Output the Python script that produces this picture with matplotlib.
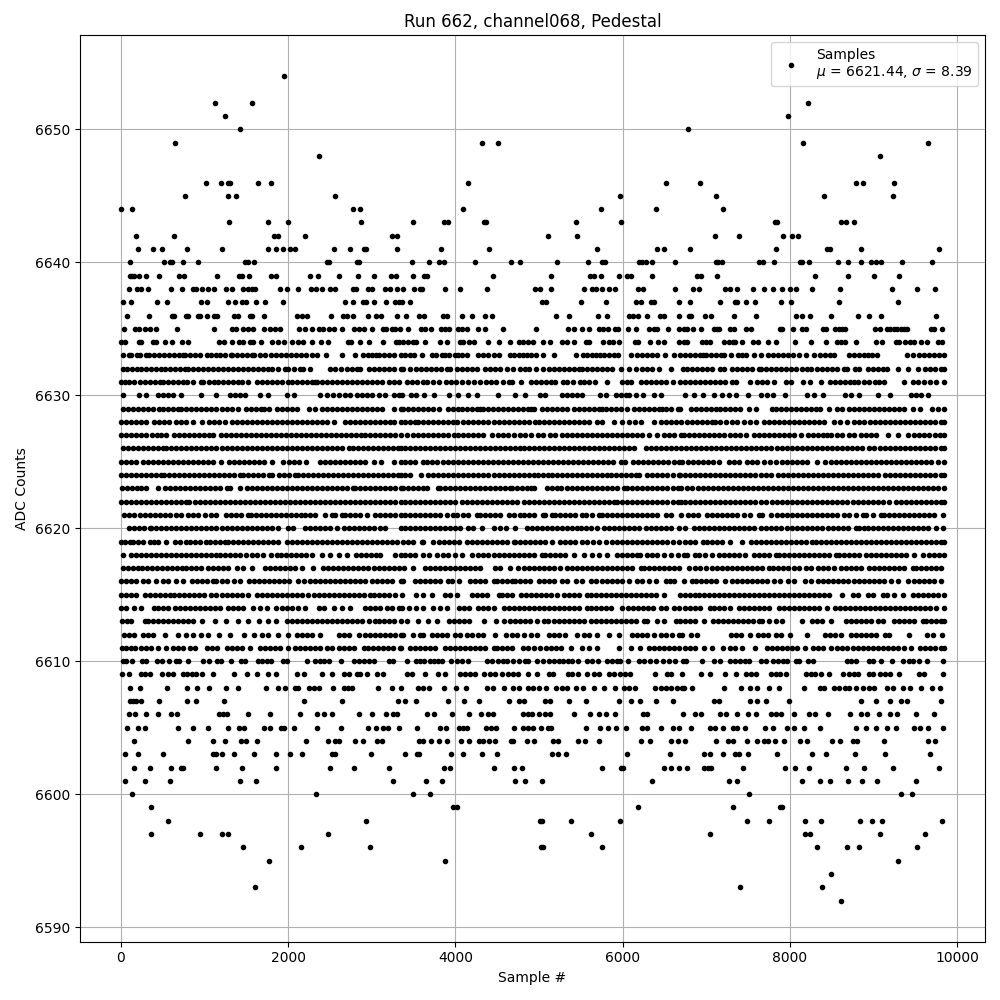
import matplotlib
matplotlib.use('Agg')
import matplotlib.pyplot as plt

# sample numbers, one list per ADC level
s6654 = [1952]
s6652 = [1124, 1568, 8212]
s6651 = [1244, 7972]
s6650 = [1424, 6784]
s6649 = [644, 4320, 4512, 8152, 9652]
s6648 = [2372, 9076]
s6646 = [1016, 1196, 1280, 1304, 1640, 1796, 4152, 6516, 6928, 8788, 8872, 9244]
s6645 = [764, 1280, 1376, 2564, 5964, 7120, 8404, 9232]
s6644 = [8, 128, 2780, 2864, 4092, 5736, 6396, 7204]
s6643 = [1292, 1760, 2000, 2876, 3492, 3864, 3912, 4344, 4368, 5448, 5976, 7816, 7840, 8608, 8668, 8764]
s6642 = [176, 632, 1832, 1880, 2204, 3240, 3300, 5112, 5460, 7108, 7396, 7912, 8020, 8092]
s6641 = [200, 380, 488, 788, 1208, 1760, 1856, 1940, 2024, 2084, 2552, 2744, 2912, 2936, 3300, 3828, 4404,
         5688, 6408, 6492, 6808, 7828, 8440, 8476, 8848, 9780]
s6640 = [104, 512, 584, 608, 740, 920, 1484, 1520, 1592, 2468, 2492, 2828, 2852, 3480, 3684, 3804, 3864, 4236,
         4668, 4776, 5220, 5580, 5748, 5784, 6192, 6228, 6276, 6348, 6624, 7120, 7144, 7192, 7636, 7672, 7804,
         8116, 8140, 8224, 8572, 8692, 8848, 8968, 9028, 9088, 9340, 9696]
s6639 = [104, 128, 152, 212, 296, 452, 692, 752, 1148, 1412, 1448, 1532, 1796, 1856, 2264, 2360, 2612, 2840, 3032,
         3228, 3288, 3492, 3624, 3660, 4452, 5148, 5604, 5652, 5736, 5952, 6048, 6096, 6348, 6892, 6940, 7132,
         8296, 8692, 9004, 9304]
s6638 = [92, 188, 236, 320, 596, 728, 860, 896, 968, 1040, 1112, 1256, 1328, 1460, 1520, 1568, 1604, 1904, 1988,
         2120, 2276, 2336, 2408, 2504, 2564, 2780, 2816, 2960, 3008, 3156, 3216, 3300, 3372, 3504, 3576, 3600,
         3876, 4056, 4380, 4956, 5016, 5148, 5532, 5628, 5676, 5748, 5832, 5904, 6180, 6240, 6624, 6844, 6916,
         7228, 7288, 7372, 7564, 7684, 7792, 7900, 7996, 8068, 8260, 8596, 9220, 9520, 9732]
s6637 = [32, 116, 428, 548, 956, 1028, 1280, 1364, 1448, 1496, 1616, 1724, 1940, 2684, 2780, 2900, 2936, 3032,
         3168, 3276, 3324, 3360, 3452, 5040, 5088, 5496, 5796, 6156, 6216, 6336, 6372, 6672, 6808, 7168, 7348,
         7372, 7480, 7588, 7888, 8008, 8584, 9288]
s6636 = [80, 332, 608, 632, 776, 800, 920, 944, 1028, 1112, 1148, 1352, 1400, 1544, 1568, 1712, 2108, 2168, 2228,
         2516, 2660, 2708, 2780, 2960, 3056, 3112, 3300, 3408, 3564, 3624, 3852, 3900, 4080, 4200, 4356, 4440,
         5208, 5364, 5700, 5808, 6072, 6120, 6180, 6288, 6444, 6492, 6672, 6796, 6820, 6988, 7060, 7336, 7600,
         8068, 8140, 8236, 8488, 8812, 8944, 9088, 9744]
s6635 = [44, 164, 212, 284, 344, 416, 668, 1112, 1328, 1376, 1460, 1520, 1580, 1712, 1784, 1844, 1904, 2132, 2204,
         2288, 2372, 2420, 2492, 2552, 2648, 2792, 2852, 2912, 3008, 3132, 3168, 3240, 3276, 3336, 3432, 3588,
         3636, 3708, 3828, 3876, 3924, 4032, 4080, 4140, 4272, 4356, 4572, 4968, 5352, 5424, 5508, 5592, 5712,
         5760, 5820, 5904, 5940, 6060, 6156, 6312, 6372, 6408, 6540, 6672, 6728, 6772, 6844, 6940, 7096, 7132,
         7156, 7288, 7336, 7480, 7540, 7876, 7900, 8032, 8140, 8188, 8392, 8428, 8536, 8584, 8620, 8656, 9020,
         9076, 9160, 9196, 9244, 9280, 9328, 9364, 9400, 9684, 9720, 9816]
s6634 = [0, 56, 212, 236, 380, 416, 524, 608, 728, 800, 1172, 1232, 1328, 1412, 1460, 1544, 1580, 1676, 1808, 1880,
         1952, 2048, 2120, 2180, 2288, 2396, 2480, 2720, 2756, 2864, 2972, 3132, 3288, 3324, 3372, 3432, 3492,
         3528, 3636, 3816, 3900, 4056, 4092, 4164, 4224, 4392, 4524, 4656, 4764, 4812, 4872, 4932, 5052, 5136,
         5280, 5340, 5424, 5556, 5592, 5760, 5832, 5880, 5952, 6144, 6180, 6324, 6420, 6492, 6672, 6728, 6772,
         6952, 7000, 7048, 7208, 7268, 7316, 7348, 7432, 7564, 7624, 7732, 7828, 8056, 8248, 8428, 8560, 8608,
         8656, 8788, 9028, 9100, 9268, 9304, 9376, 9436, 9484, 9568, 9640, 9768, 9816]

# dense band: run ends, dots inside the runs are estimates
s6633 = [24, 92, 124, 196, 224, 304, 332, 392, 452, 512, 572, 632, 692, 744, 772, 832, 892, 952, 1036, 1076, 1136,
         1184, 1250, 1316, 1332, 1392, 1452, 1512, 1564, 1596, 1660, 1724, 1796, 1856, 1916, 1976, 2036, 2096,
         2156, 2216, 2280, 2344, 2452, 2644, 2796, 2892, 2950, 3000, 3052, 3084, 3144, 3204, 3264, 3344, 3400,
         3456, 3504, 3604, 3716, 3768, 3836, 3876, 3928, 3990, 4030, 4076, 4136, 4276, 4336, 4396, 4456, 4516,
         4648, 4700, 4760, 4808, 4856, 4910, 4964, 5048, 5176, 5448, 5524, 5576, 5630, 5676, 5724, 5780, 5840,
         5900, 5944, 6104, 6168, 6228, 6288, 6348, 6416, 6508, 6616, 6688, 6750, 6810, 6870, 6930, 6960, 7000,
         7060, 7120, 7170, 7216, 7300, 7376, 7430, 7480, 7576, 7648, 7736, 7796, 7856, 7916, 7976, 8036, 8108,
         8188, 8288, 8360, 8420, 8480, 8528, 8708, 8768, 8828, 8888, 8928, 8980, 9040, 9400, 9470, 9548, 9608,
         9668, 9728, 9788, 9840]
s6632 = [24, 76, 136, 196, 236, 296, 356, 416, 484, 524, 584, 644, 704, 764, 804, 864, 924, 984, 1044, 1104,
         1164, 1224, 1284, 1344, 1404, 1464, 1524, 1584, 1644, 1704, 1764, 1812, 1884, 1964, 2004, 2070, 2144,
         2184, 2264, 2504, 2564, 2630, 2700, 2764, 2824, 2856, 2972, 3024, 3084, 3144, 3204, 3264, 3344, 3376,
         3456, 3528, 3588, 3648, 3708, 3768, 3828, 3896, 3936, 4016, 4076, 4136, 4196, 4256, 4356, 4416, 4476,
         4536, 4616, 4688, 4776, 4836, 4876, 4960, 5048, 5116, 5176, 5236, 5296, 5356, 5416, 5476, 5516, 5576,
         5636, 5696, 5756, 5816, 5876, 5976, 6076, 6164, 6236, 6296, 6356, 6436, 6576, 6720, 6768, 6828, 6888,
         6948, 7008, 7068, 7160, 7208, 7308, 7368, 7428, 7488, 7548, 7628, 7648, 7708, 7768, 7828, 7888, 7948,
         8008, 8068, 8148, 8200, 8248, 8328, 8388, 8448, 8508, 8568, 8648, 8688, 8776, 8828, 8928, 8988, 9048,
         9108, 9160, 9288, 9408, 9536, 9620, 9680, 9740, 9800, 9840]
s6631 = [4, 48, 92, 156, 224, 284, 344, 404, 464, 504, 564, 624, 684, 744, 796, 864, 956, 984, 1050, 1116, 1164,
         1224, 1284, 1344, 1396, 1444, 1524, 1624, 1684, 1744, 1804, 1864, 1924, 1996, 2044, 2104, 2164, 2224,
         2284, 2324, 2344, 2404, 2464, 2524, 2584, 2644, 2704, 2764, 2824, 2884, 2944, 3004, 3064, 3124, 3204,
         3264, 3324, 3416, 3476, 3536, 3608, 3656, 3730, 3808, 3888, 3948, 4008, 4076, 4148, 4224, 4290, 4364,
         4424, 4490, 4564, 4636, 4676, 4780, 4904, 4964, 5024, 5084, 5144, 5196, 5288, 5336, 5410, 5484, 5536,
         5600, 5664, 5812, 5996, 6050, 6104, 6216, 6276, 6336, 6396, 6456, 6516, 6596, 6688, 6748, 6808, 6868,
         6928, 6988, 7048, 7108, 7168, 7228, 7308, 7352, 7520, 7608, 7668, 7728, 7808, 7948, 8016, 8152, 8240,
         8372, 8480, 8540, 8600, 8660, 8720, 8768, 8808, 8880, 8948, 9016, 9070, 9128, 9368, 9468, 9528, 9600,
         9670, 9748, 9840]
s6630 = [24, 212, 304, 444, 504, 564, 624, 720, 960, 1144, 1304, 1364, 1424, 1484, 1668, 1756, 1984, 2072, 2376,
         2464, 2532, 2612, 2680, 2744, 2824, 2884, 2944, 3004, 3084, 3164, 3264, 3324, 3356, 3468, 3528, 3628,
         3748, 3928, 4036, 4156, 4256, 4504, 4716, 4828, 5016, 5076, 5276, 5336, 5396, 5456, 5516, 5728, 5800,
         5916, 5976, 6036, 6076, 6156, 6248, 6376, 6464, 6740, 6856, 6960, 7088, 7184, 7268, 7352, 7496, 7648,
         7720, 7800, 7940, 8208, 8288, 8396, 8656, 8728, 8828, 9056, 9200, 9448, 9508, 9568, 9648]
s6629 = [24, 84, 144, 204, 264, 324, 384, 452, 504, 564, 624, 684, 724, 784, 844, 904, 964, 1024, 1084, 1144, 1204,
         1264, 1324, 1404, 1496, 1556, 1616, 1676, 1716, 1772, 1864, 1924, 1984, 2044, 2104, 2252, 2324, 2404,
         2464, 2524, 2584, 2644, 2704, 2764, 2824, 2884, 2944, 3004, 3064, 3124, 3264, 3344, 3376, 3436, 3496,
         3556, 3616, 3676, 3736, 3808, 3916, 3976, 4036, 4076, 4136, 4196, 4256, 4296, 4328, 4388, 4448, 4508,
         4568, 4628, 4688, 4748, 4808, 4868, 4904, 4936, 5036, 5096, 5156, 5216, 5276, 5336, 5416, 5476, 5536,
         5596, 5656, 5716, 5756, 5796, 5856, 5916, 5976, 6048, 6136, 6196, 6256, 6316, 6376, 6436, 6476, 6516,
         6576, 6656, 6688, 6820, 6880, 6940, 7000, 7060, 7116, 7160, 7220, 7280, 7348, 7408, 7508, 7600, 7788,
         7828, 7896, 7956, 8016, 8076, 8136, 8196, 8256, 8316, 8360, 8468, 8568, 8628, 8708, 8768, 8828, 8888,
         8948, 9008, 9068, 9128, 9188, 9248, 9308, 9368, 9468, 9560, 9696, 9770, 9840]
s6628 = [4, 64, 124, 184, 244, 304, 396, 456, 516, 576, 664, 720, 784, 864, 972, 1052, 1112, 1172, 1244, 1324, 1384,
         1444, 1504, 1564, 1624, 1684, 1744, 1804, 1864, 1924, 1984, 2044, 2104, 2164, 2224, 2284, 2344, 2404,
         2464, 2544, 2676, 2736, 2796, 2856, 2916, 2976, 3036, 3096, 3156, 3224, 3264, 3344, 3396, 3456, 3516,
         3556, 3616, 3676, 3736, 3796, 3856, 3916, 3976, 4016, 4096, 4156, 4216, 4276, 4336, 4396, 4456, 4516,
         4576, 4636, 4696, 4756, 4816, 4876, 4956, 4996, 5056, 5116, 5176, 5236, 5296, 5356, 5416, 5476, 5536,
         5596, 5696, 5748, 5896, 5996, 6076, 6150, 6216, 6376, 6456, 6516, 6576, 6636, 6696, 6768, 6828, 6888,
         6948, 7008, 7068, 7108, 7168, 7240, 7308, 7368, 7448, 7520, 7600, 7688, 7748, 7808, 7868, 7928, 7988,
         8048, 8108, 8168, 8228, 8288, 8348, 8408, 8528, 8600, 8688, 8768, 8830, 8888, 8960, 9020, 9080, 9140,
         9200, 9260, 9320, 9380, 9440, 9500, 9560, 9620, 9680, 9740, 9800, 9840]
s6627 = [0, 60, 120, 180, 236, 304, 372, 430, 484, 544, 636, 696, 756, 816, 876, 936, 996, 1056, 1104, 1196, 1256,
         1316, 1376, 1436, 1496, 1556, 1616, 1676, 1736, 1796, 1856, 1916, 1976, 2036, 2096, 2156, 2216, 2276,
         2336, 2396, 2456, 2516, 2576, 2636, 2696, 2756, 2816, 2876, 2916, 2984, 3044, 3104, 3164, 3224, 3284,
         3344, 3416, 3496, 3556, 3616, 3676, 3736, 3796, 3856, 3916, 3984, 4036, 4096, 4156, 4216, 4276, 4336,
         4436, 4504, 4564, 4624, 4700, 4768, 4836, 4900, 4984, 5048, 5128, 5196, 5276, 5336, 5396, 5456, 5516,
         5576, 5636, 5696, 5756, 5816, 5876, 5936, 5996, 6056, 6116, 6176, 6236, 6316, 6416, 6496, 6556, 6616,
         6696, 6728, 6788, 6848, 6908, 6976, 7028, 7088, 7150, 7216, 7288, 7348, 7408, 7476, 7576, 7628, 7688,
         7748, 7808, 7868, 7928, 7988, 8048, 8136, 8216, 8276, 8336, 8396, 8448, 8496, 8568, 8628, 8708, 8768,
         8848, 8910, 8968, 9028, 9168, 9288, 9408, 9480, 9540, 9608, 9668, 9730, 9790, 9840]
s6626 = [24, 84, 144, 204, 264, 324, 384, 444, 504, 544, 604, 664, 724, 784, 844, 904, 964, 1024, 1084, 1144, 1204,
         1264, 1324, 1384, 1444, 1504, 1564, 1624, 1684, 1744, 1804, 1864, 1924, 1984, 2044, 2104, 2164, 2224,
         2284, 2344, 2404, 2464, 2524, 2584, 2644, 2724, 2772, 2832, 2892, 2952, 3012, 3072, 3132, 3192, 3252,
         3312, 3344, 3396, 3456, 3516, 3576, 3636, 3696, 3756, 3816, 3876, 3936, 3996, 4056, 4116, 4176, 4236,
         4296, 4356, 4416, 4476, 4536, 4596, 4656, 4716, 4776, 4824, 4876, 4936, 4996, 5056, 5116, 5176, 5236,
         5296, 5356, 5416, 5476, 5536, 5596, 5656, 5716, 5776, 5836, 5896, 5956, 6016, 6076, 6136, 6276, 6336,
         6396, 6456, 6516, 6576, 6636, 6696, 6756, 6816, 6876, 6936, 6996, 7056, 7116, 7176, 7236, 7296, 7356,
         7416, 7476, 7536, 7596, 7656, 7716, 7768, 7840, 7900, 7960, 8020, 8080, 8140, 8200, 8260, 8320, 8380,
         8440, 8500, 8560, 8620, 8680, 8740, 8800, 8860, 8948, 9000, 9080, 9140, 9200, 9260, 9320, 9380, 9440,
         9500, 9560, 9620, 9680, 9740, 9800, 9840]
s6625 = [4, 64, 124, 184, 264, 324, 384, 444, 504, 564, 624, 684, 744, 804, 864, 924, 984, 1044, 1104, 1196, 1292,
         1352, 1412, 1472, 1532, 1592, 1652, 1712, 1804, 1944, 2012, 2072, 2132, 2212, 2384, 2444, 2504, 2564,
         2624, 2684, 2744, 2804, 2864, 2924, 3024, 3116, 3264, 3344, 3396, 3456, 3516, 3608, 3656, 3716, 3776,
         3856, 3916, 3976, 4036, 4096, 4156, 4216, 4276, 4336, 4396, 4444, 4504, 4564, 4624, 4684, 4744, 4804,
         4864, 4924, 4984, 5044, 5104, 5164, 5224, 5284, 5344, 5404, 5464, 5524, 5584, 5644, 5704, 5764, 5824,
         5884, 5976, 6028, 6128, 6188, 6248, 6308, 6368, 6428, 6488, 6548, 6608, 6676, 6708, 6776, 6836, 6896,
         6956, 7016, 7076, 7148, 7268, 7328, 7388, 7488, 7548, 7610, 7688, 7760, 7828, 7908, 7968, 8028, 8088,
         8148, 8200, 8328, 8416, 8488, 8548, 8608, 8668, 8728, 8788, 8848, 8908, 8968, 9028, 9088, 9148, 9208,
         9268, 9328, 9388, 9448, 9508, 9568, 9628, 9688, 9768, 9840]
s6624 = [4, 64, 124, 184, 244, 304, 364, 424, 484, 516, 576, 636, 696, 756, 816, 876, 936, 996, 1056, 1116, 1176,
         1236, 1296, 1356, 1424, 1464, 1524, 1584, 1644, 1704, 1772, 1804, 1892, 1952, 2012, 2084, 2116, 2176,
         2236, 2296, 2356, 2416, 2476, 2536, 2596, 2656, 2716, 2776, 2836, 2896, 2956, 3016, 3076, 3136, 3196,
         3256, 3316, 3344, 3396, 3456, 3584, 3676, 3736, 3796, 3856, 3916, 3976, 4036, 4096, 4156, 4216, 4276,
         4336, 4396, 4456, 4516, 4576, 4636, 4696, 4756, 4816, 4876, 4944, 4984, 5044, 5104, 5156, 5216, 5276,
         5336, 5396, 5456, 5516, 5576, 5636, 5696, 5756, 5816, 5864, 5924, 5984, 6044, 6104, 6164, 6196, 6296,
         6356, 6416, 6476, 6536, 6596, 6676, 6688, 6748, 6808, 6868, 6928, 6988, 7048, 7108, 7168, 7228, 7288,
         7348, 7408, 7468, 7528, 7588, 7648, 7708, 7768, 7856, 7916, 7976, 8036, 8096, 8156, 8216, 8276, 8336,
         8396, 8456, 8516, 8576, 8636, 8696, 8756, 8816, 8876, 8936, 8996, 9056, 9136, 9200, 9260, 9320, 9380,
         9440, 9500, 9560, 9620, 9680, 9740, 9800, 9840]
s6623 = [12, 72, 132, 192, 244, 304, 444, 524, 584, 644, 704, 764, 824, 884, 944, 1004, 1064, 1124, 1184, 1264, 1304,
         1424, 1504, 1564, 1624, 1684, 1744, 1804, 1864, 1924, 1984, 2044, 2104, 2164, 2224, 2284, 2344, 2404,
         2464, 2524, 2584, 2644, 2704, 2772, 2804, 2864, 2924, 2984, 3044, 3104, 3164, 3224, 3284, 3344, 3376,
         3436, 3496, 3556, 3616, 3664, 3796, 3816, 3876, 3936, 3996, 4056, 4116, 4176, 4236, 4296, 4356, 4416,
         4476, 4536, 4596, 4656, 4676, 4736, 4796, 4856, 4904, 4936, 5096, 5156, 5216, 5264, 5336, 5396, 5456,
         5516, 5576, 5636, 5696, 5756, 5816, 5876, 5936, 6016, 6056, 6116, 6176, 6236, 6296, 6356, 6416, 6476,
         6536, 6596, 6656, 6696, 6768, 6828, 6896, 6956, 7016, 7076, 7136, 7196, 7256, 7316, 7376, 7436, 7496,
         7556, 7616, 7676, 7736, 7796, 7856, 7916, 7976, 8036, 8096, 8156, 8216, 8276, 8336, 8396, 8456, 8516,
         8576, 8636, 8696, 8756, 8816, 8876, 8928, 8988, 9048, 9108, 9168, 9228, 9288, 9348, 9408, 9468, 9528,
         9588, 9648, 9708, 9768, 9840]
s6622 = [0, 60, 120, 180, 240, 300, 360, 420, 480, 540, 600, 660, 720, 780, 812, 884, 944, 1004, 1064, 1124, 1184,
         1244, 1304, 1364, 1424, 1484, 1544, 1604, 1664, 1724, 1784, 1844, 1904, 1964, 2024, 2084, 2144, 2204,
         2264, 2324, 2384, 2444, 2504, 2564, 2624, 2684, 2744, 2804, 2864, 2924, 2984, 3044, 3104, 3164, 3224,
         3284, 3344, 3396, 3456, 3516, 3576, 3636, 3696, 3756, 3816, 3876, 3936, 3996, 4076, 4136, 4196, 4256,
         4316, 4376, 4436, 4496, 4556, 4616, 4676, 4736, 4816, 4876, 4936, 4996, 5056, 5116, 5176, 5236, 5296,
         5356, 5416, 5476, 5536, 5596, 5656, 5716, 5776, 5836, 5896, 5936, 5996, 6056, 6116, 6176, 6236, 6296,
         6356, 6416, 6476, 6536, 6596, 6656, 6696, 6748, 6808, 6868, 6928, 6988, 7048, 7108, 7168, 7228, 7288,
         7348, 7408, 7468, 7528, 7588, 7648, 7708, 7788, 7848, 7908, 7968, 8028, 8088, 8148, 8208, 8268, 8328,
         8388, 8448, 8508, 8568, 8628, 8688, 8748, 8808, 8868, 8928, 8988, 9048, 9108, 9188, 9268, 9328, 9388,
         9448, 9508, 9568, 9628, 9688, 9748, 9808, 9840]
s6621 = [36, 96, 156, 224, 292, 352, 412, 472, 532, 592, 664, 724, 804, 864, 924, 1004, 1084, 1144, 1252, 1312, 1372,
         1432, 1524, 1556, 1616, 1676, 1736, 1796, 1856, 1916, 1976, 2036, 2096, 2156, 2204, 2264, 2324, 2444,
         2524, 2564, 2644, 2684, 2744, 2804, 2864, 2944, 3044, 3104, 3164, 3224, 3284, 3344, 3396, 3456, 3516,
         3576, 3636, 3696, 3756, 3816, 3896, 3968, 4024, 4096, 4156, 4256, 4296, 4356, 4416, 4476, 4536, 4636,
         4696, 4776, 4816, 4876, 4936, 5048, 5076, 5156, 5196, 5256, 5316, 5376, 5436, 5516, 5556, 5636, 5716,
         5756, 5816, 5876, 5936, 5996, 6056, 6116, 6176, 6236, 6296, 6356, 6416, 6516, 6576, 6696, 6776, 6836,
         6896, 7008, 7068, 7128, 7188, 7248, 7308, 7368, 7448, 7528, 7628, 7668, 7776, 7848, 7908, 7968, 8028,
         8088, 8148, 8208, 8268, 8328, 8388, 8448, 8508, 8568, 8648, 8708, 8788, 8868, 8908, 8988, 9088, 9128,
         9188, 9248, 9308, 9368, 9428, 9488, 9548, 9608, 9668, 9728, 9828]
s6620 = [92, 152, 212, 272, 344, 364, 424, 484, 544, 604, 664, 724, 784, 844, 904, 964, 1024, 1084, 1144, 1204, 1264,
         1324, 1384, 1444, 1504, 1564, 1624, 1684, 1744, 1804, 1884, 2004, 2064, 2204, 2264, 2324, 2384, 2444,
         2504, 2584, 2664, 2724, 2784, 2844, 2904, 2964, 3024, 3104, 3164, 3344, 3396, 3456, 3516, 3576, 3636,
         3696, 3756, 3816, 3876, 3936, 3996, 4056, 4156, 4208, 4316, 4456, 4536, 4608, 4716, 4856, 4916, 4976,
         5036, 5096, 5156, 5216, 5276, 5336, 5396, 5456, 5496, 5556, 5616, 5696, 5776, 5836, 5896, 5956, 6016,
         6076, 6136, 6196, 6276, 6336, 6396, 6456, 6516, 6576, 6676, 6748, 6848, 6908, 6968, 7028, 7088, 7148,
         7208, 7268, 7328, 7388, 7448, 7508, 7568, 7648, 7708, 7768, 7828, 7888, 7968, 8028, 8088, 8148, 8208,
         8268, 8328, 8388, 8456, 8516, 8576, 8636, 8696, 8788, 8828, 8888, 8928, 8988, 9048, 9108, 9168, 9228,
         9288, 9348, 9408, 9468, 9528, 9588, 9648, 9748, 9828]
s6619 = [0, 50, 104, 144, 204, 264, 344, 396, 444, 544, 644, 704, 784, 824, 884, 944, 1024, 1064, 1124, 1184, 1244,
         1284, 1344, 1404, 1464, 1524, 1584, 1644, 1704, 1764, 1824, 1884, 1984, 2044, 2104, 2164, 2224, 2284,
         2344, 2404, 2464, 2524, 2584, 2644, 2704, 2764, 2824, 2884, 2944, 3004, 3064, 3124, 3184, 3244, 3304,
         3376, 3436, 3496, 3596, 3616, 3736, 3808, 3868, 3928, 3988, 4048, 4136, 4196, 4256, 4316, 4376, 4436,
         4496, 4556, 4616, 4696, 4716, 4776, 4836, 4896, 4956, 5016, 5076, 5156, 5248, 5308, 5368, 5428, 5516,
         5576, 5648, 5716, 5796, 5876, 5936, 5996, 6056, 6116, 6176, 6236, 6296, 6356, 6416, 6476, 6536, 6596,
         6676, 6748, 6808, 6868, 6960, 7008, 7068, 7128, 7188, 7288, 7428, 7536, 7596, 7656, 7716, 7776, 7836,
         7896, 7956, 8016, 8076, 8136, 8196, 8268, 8308, 8368, 8428, 8488, 8548, 8608, 8668, 8728, 8788, 8848,
         8908, 8968, 9028, 9088, 9148, 9208, 9268, 9328, 9388, 9448, 9508, 9568, 9628, 9688, 9748, 9808, 9840]
s6618 = [24, 116, 176, 236, 296, 356, 416, 476, 536, 596, 656, 716, 776, 844, 904, 964, 1024, 1084, 1144, 1184, 1244,
         1304, 1364, 1424, 1496, 1564, 1630, 1704, 1796, 1864, 1916, 1976, 2036, 2096, 2156, 2216, 2284, 2404,
         2504, 2604, 2704, 2812, 2872, 2932, 2992, 3052, 3104, 3284, 3344, 3396, 3456, 3516, 3608, 3690, 3776,
         3848, 3916, 3996, 4076, 4196, 4276, 4336, 4396, 4456, 4516, 4576, 4636, 4696, 4756, 4816, 4876, 4936,
         5036, 5076, 5136, 5196, 5256, 5316, 5416, 5536, 5636, 5716, 5816, 5936, 5996, 6056, 6116, 6176, 6208,
         6296, 6356, 6416, 6496, 6576, 6656, 6728, 6768, 6868, 6908, 6988, 7068, 7148, 7208, 7268, 7328, 7388,
         7468, 7568, 7628, 7688, 7748, 7828, 7868, 7928, 7988, 8048, 8108, 8168, 8228, 8288, 8348, 8408, 8468,
         8548, 8588, 8648, 8708, 8768, 8828, 8908, 8968, 9028, 9088, 9148, 9208, 9268, 9328, 9388, 9488, 9588,
         9668, 9728, 9788, 9840]
s6617 = [24, 84, 144, 204, 252, 312, 372, 432, 492, 552, 612, 672, 732, 784, 844, 904, 964, 1044, 1104, 1164, 1224,
         1284, 1384, 1464, 1572, 1724, 1784, 1844, 1904, 1964, 2024, 2084, 2164, 2292, 2412, 2472, 2532, 2592,
         2652, 2712, 2772, 2832, 2892, 2952, 3024, 3084, 3144, 3204, 3264, 3324, 3384, 3488, 3636, 3696, 3756,
         3816, 3876, 3936, 3996, 4056, 4116, 4176, 4236, 4296, 4476, 4536, 4656, 4744, 4816, 4876, 4936, 4996,
         5056, 5116, 5176, 5256, 5336, 5396, 5456, 5516, 5576, 5636, 5696, 5756, 5816, 5876, 5936, 5996, 6056,
         6116, 6216, 6256, 6316, 6376, 6436, 6496, 6556, 6616, 6676, 6788, 6868, 6928, 7000, 7068, 7128, 7188,
         7248, 7308, 7368, 7428, 7488, 7548, 7608, 7668, 7748, 7800, 7860, 7920, 7980, 8048, 8108, 8188, 8248,
         8336, 8396, 8456, 8528, 8608, 8668, 8728, 8788, 8848, 8948, 9000, 9060, 9120, 9180, 9240, 9300, 9360,
         9468, 9508, 9568, 9628, 9688, 9748, 9808]
s6616 = [4, 64, 124, 184, 264, 324, 424, 504, 564, 664, 744, 852, 916, 976, 1036, 1104, 1144, 1204, 1264, 1356, 1424,
         1532, 1596, 1656, 1716, 1776, 1836, 1896, 1956, 2016, 2124, 2196, 2256, 2316, 2376, 2436, 2496, 2556,
         2616, 2676, 2736, 2796, 2864, 2924, 3004, 3064, 3124, 3184, 3244, 3344, 3376, 3516, 3576, 3636, 3696,
         3756, 3816, 3916, 3956, 4048, 4176, 4236, 4296, 4356, 4456, 4496, 4556, 4616, 4676, 4716, 4776, 4836,
         4896, 4996, 5056, 5116, 5176, 5276, 5336, 5448, 5508, 5616, 5676, 5756, 5816, 5876, 5936, 5996, 6076,
         6168, 6236, 6316, 6396, 6516, 6568, 6616, 6728, 6828, 6880, 6940, 7000, 7060, 7120, 7228, 7308, 7368,
         7428, 7488, 7548, 7608, 7668, 7728, 7808, 7876, 7976, 8048, 8176, 8256, 8336, 8400, 8460, 8520, 8580,
         8640, 8700, 8760, 8820, 8880, 8940, 9000, 9060, 9120, 9208, 9296, 9408, 9488, 9548, 9608, 9668, 9728, 9800]
s6615 = [0, 60, 120, 180, 292, 344, 404, 464, 524, 584, 636, 696, 756, 816, 876, 936, 996, 1084, 1144, 1204, 1264,
         1324, 1384, 1444, 1524, 1624, 1684, 1744, 1804, 1864, 1924, 1984, 2044, 2104, 2164, 2244, 2304, 2364,
         2424, 2484, 2544, 2604, 2664, 2724, 2784, 2844, 2904, 2984, 3024, 3084, 3144, 3204, 3276, 3356, 3528,
         3616, 3716, 3876, 3936, 4024, 4196, 4256, 4316, 4376, 4516, 4556, 4616, 4676, 4784, 4848, 4908, 4968,
         5028, 5088, 5148, 5216, 5296, 5356, 5416, 5476, 5576, 5624, 5684, 5744, 5804, 5864, 5924, 5984, 6044,
         6104, 6164, 6224, 6284, 6344, 6404, 6496, 6688, 6748, 6808, 6868, 6908, 6968, 7028, 7088, 7148, 7208,
         7268, 7328, 7388, 7448, 7508, 7568, 7628, 7688, 7748, 7808, 7868, 7928, 7988, 8048, 8108, 8168, 8228,
         8288, 8348, 8408, 8468, 8628, 8748, 8808, 8928, 8988, 9108, 9160, 9250, 9348, 9468, 9528, 9588, 9648,
         9708, 9768, 9840]
s6614 = [0, 60, 156, 244, 396, 444, 504, 564, 644, 704, 764, 824, 884, 944, 1004, 1064, 1124, 1184, 1284, 1344, 1404,
         1464, 1584, 1664, 1744, 1852, 1924, 1984, 2044, 2124, 2204, 2364, 2424, 2544, 2644, 2744, 2924, 2984,
         3044, 3104, 3184, 3244, 3324, 3356, 3448, 3528, 3616, 3736, 3816, 3896, 4048, 4108, 4168, 4276, 4336,
         4396, 4456, 4576, 4636, 4696, 4756, 4816, 4876, 4936, 4996, 5056, 5116, 5176, 5236, 5296, 5356, 5416,
         5476, 5576, 5624, 5684, 5744, 5804, 5864, 5996, 6064, 6124, 6184, 6244, 6304, 6364, 6456, 6516, 6616,
         6676, 6748, 6808, 6868, 6928, 7048, 7088, 7148, 7208, 7288, 7388, 7448, 7508, 7568, 7628, 7688, 7748,
         7868, 7928, 7988, 8048, 8108, 8168, 8228, 8288, 8348, 8448, 8536, 8596, 8656, 8716, 8776, 8836, 8896,
         8956, 9016, 9076, 9136, 9196, 9256, 9316, 9376, 9436, 9496, 9556, 9616, 9676, 9748, 9836]
s6613 = [12, 76, 124, 284, 324, 384, 444, 504, 564, 624, 684, 744, 804, 864, 972, 1124, 1252, 1404, 1524, 1652, 1756,
         1852, 1984, 2044, 2104, 2164, 2224, 2284, 2344, 2404, 2464, 2524, 2584, 2644, 2704, 2764, 2824, 2884,
         2964, 3044, 3084, 3144, 3204, 3264, 3344, 3424, 3556, 3676, 3776, 3928, 3988, 4048, 4108, 4168, 4344,
         4488, 4584, 4656, 4716, 4776, 4836, 4896, 4976, 5064, 5104, 5176, 5236, 5296, 5356, 5416, 5476, 5536,
         5616, 5676, 5736, 5796, 5856, 5916, 5976, 6036, 6096, 6156, 6256, 6296, 6416, 6496, 6636, 6688, 6748,
         6808, 6868, 6976, 7076, 7136, 7196, 7256, 7316, 7376, 7436, 7496, 7556, 7628, 7668, 7748, 7828, 7908,
         8148, 8268, 8328, 8388, 8488, 8668, 8728, 8788, 8848, 8908, 8968, 9048, 9108, 9248, 9308, 9368, 9428,
         9488, 9588, 9628, 9688, 9748, 9808, 9840]
s6612 = [36, 96, 156, 264, 324, 384, 524, 684, 784, 864, 956, 1044, 1172, 1304, 1476, 1596, 1684, 1764, 1884, 2004,
         2104, 2164, 2224, 2284, 2384, 2612, 2672, 2732, 2852, 2916, 2976, 3036, 3096, 3156, 3216, 3276, 3344,
         3376, 3496, 3576, 3616, 3716, 3776, 3836, 3896, 3996, 4056, 4136, 4196, 4276, 4328, 4476, 4608, 4676,
         4736, 4816, 4904, 4976, 5116, 5176, 5236, 5316, 5456, 5536, 5596, 5688, 5836, 5956, 6116, 6176, 6236,
         6296, 6376, 6464, 6524, 6584, 6676, 6708, 6816, 6888, 7300, 7360, 7420, 7528, 7616, 7676, 7736, 7828,
         7888, 8000, 8208, 8416, 8476, 8536, 8616, 8728, 8788, 8848, 8908, 8968, 9028, 9136, 9188, 9428, 9636,
         9708, 9816]
s6611 = [12, 64, 116, 164, 236, 296, 356, 444, 544, 624, 684, 744, 824, 884, 1036, 1096, 1156, 1264, 1324, 1384, 1444,
         1544, 1664, 1724, 1784, 1844, 1904, 2004, 2084, 2144, 2204, 2264, 2324, 2384, 2464, 2524, 2612, 2672,
         2732, 2792, 2904, 2956, 3016, 3076, 3136, 3196, 3256, 3344, 3336, 3456, 3516, 3576, 3636, 3696, 3756,
         3876, 3936, 3996, 4056, 4116, 4176, 4236, 4296, 4356, 4456, 4496, 4556, 4616, 4676, 4808, 4864, 4944,
         5016, 5088, 5148, 5208, 5268, 5384, 5516, 5600, 5688, 5956, 6096, 6208, 6316, 6376, 6436, 6496, 6556,
         6616, 6676, 6748, 6808, 6868, 6968, 7068, 7200, 7280, 7348, 7428, 7580, 7728, 7788, 7848, 7908, 7968,
         8028, 8088, 8176, 8280, 8340, 8400, 8488, 8568, 8628, 8688, 8748, 8808, 8868, 8928, 8988, 9048, 9108,
         9168, 9228, 9288, 9368, 9448, 9560, 9620, 9680, 9740, 9800, 9840]

s6610 = [32, 68, 128, 248, 296, 428, 488, 572, 656, 692, 800, 980, 1052, 1148, 1196, 1316, 1436, 1484, 1640, 1688,
         1748, 1796, 1940, 1988, 2228, 2324, 2384, 2432, 2492, 2636, 2792, 2852, 2912, 2972, 3032, 3204, 3252,
         3420, 3528, 3576, 3624, 3696, 3744, 3792, 3840, 3948, 4020, 4080, 4152, 4380, 4440, 4512, 4572, 4620,
         4692, 4764, 4836, 4872, 4980, 5052, 5124, 5184, 5244, 5292, 5352, 5400, 5472, 5568, 5628, 5700, 5808,
         5868, 5928, 5964, 6060, 6192, 6252, 6324, 6396, 6480, 6552, 6624, 6724, 6760, 6952, 7096, 7168, 7288,
         7348, 7408, 7468, 7516, 7648, 7708, 7792, 7852, 7912, 7960, 8068, 8104, 8212, 8272, 8680, 8728, 8788,
         8944, 8992, 9088, 9220, 9352, 9424, 9472, 9548, 9640, 9832]
s6609 = [20, 92, 236, 284, 344, 488, 560, 620, 740, 788, 848, 896, 968, 1100, 1352, 1508, 1628, 1760, 1856, 2108,
         2192, 2408, 2528, 2672, 2732, 2828, 2864, 2948, 3068, 3132, 3420, 3480, 3636, 3792, 3876, 4056, 4116,
         4176, 4236, 4344, 4416, 4476, 4560, 4632, 4692, 4752, 4872, 4980, 5124, 5172, 5352, 5400, 5472, 5568,
         5652, 5712, 5832, 5892, 5964, 6024, 6084, 6384, 6528, 6576, 6712, 6940, 7048, 7228, 7360, 7480, 7540,
         7600, 7768, 7828, 7876, 7948, 8188, 8248, 8296, 8368, 8464, 8632, 8704, 8764, 8812, 8944, 8992, 9076,
         9136, 9196, 9304, 9544, 9604, 9832]
s6608 = [104, 224, 548, 788, 908, 1052, 1256, 1400, 1736, 1880, 1964, 2084, 2120, 2252, 2312, 2372, 2540, 2672, 2720,
         2768, 3080, 3240, 3348, 3552, 3612, 3684, 3864, 4008, 4128, 4380, 4452, 4584, 4692, 4764, 4872, 4932,
         5004, 5088, 5208, 5280, 5340, 5448, 5520, 5652, 5772, 5904, 6012, 6072, 6144, 6384, 6456, 6516, 6576,
         6648, 6712, 6736, 6832, 7216, 7420, 7528, 7612, 7744, 7864, 8164, 8356, 8404, 8524, 8584, 8656, 8704,
         8788, 8872, 8944, 9004, 9160, 9232, 9352, 9436, 9568, 9700, 9796]
s6607 = [104, 140, 176, 236, 452, 788, 896, 1232, 2192, 2648, 3312, 3396, 3528, 3912, 4104, 4284, 4644, 4764, 4824,
         5076, 5136, 5364, 5556, 5952, 6096, 6204, 6396, 6600, 7096, 7156, 7528, 7612, 7708, 7984, 8848, 9028,
         9196, 9328, 9400, 9808]
s6606 = [92, 164, 296, 440, 596, 668, 1172, 1220, 1268, 1520, 1784, 2144, 2348, 2432, 2528, 2852, 3008, 3168, 3252,
         3300, 3660, 3744, 3960, 4164, 4308, 4392, 4452, 4812, 4872, 4920, 5004, 5076, 5136, 5424, 5604, 5712,
         5796, 5904, 6240, 6288, 6724, 6868, 6940, 7168, 7240, 7372, 7504, 7600, 7768, 7828, 7888, 8048, 8224,
         8296, 8452, 8716, 8848, 8920, 9064, 9196, 9280, 9508, 9724]
s6605 = [80, 200, 284, 680, 860, 1040, 1280, 1412, 1472, 1712, 1784, 1916, 1952, 2072, 2348, 2636, 2960, 3056, 3132,
         3192, 3324, 3540, 3816, 3888, 4044, 4092, 4140, 4368, 4428, 4488, 4704, 4812, 4872, 4932, 5028, 5112,
         5148, 5556, 5724, 5820, 5916, 6036, 6228, 6288, 6456, 6600, 6672, 6820, 7048, 7108, 7204, 7324, 7372,
         7468, 7696, 7792, 7960, 8044, 8164, 8356, 8788, 8908, 9028, 9160, 9268, 9484, 9556, 9652, 9832]
s6604 = [152, 800, 1100, 1244, 1436, 1496, 1628, 2216, 2480, 2564, 2612, 2804, 2900, 3068, 3120, 3564, 3612, 3708,
         3804, 3900, 4068, 4164, 4284, 4332, 4404, 4476, 4668, 4692, 4860, 4944, 5172, 5232, 5472, 5544, 5712,
         6216, 6324, 6576, 6660, 6748, 7120, 7264, 7324, 7492, 7612, 7684, 7732, 7816, 7924, 8116, 8200, 8500,
         8596, 8752, 8800, 9124, 9652, 9736]
s6603 = [56, 200, 500, 1100, 1136, 1208, 1352, 1592, 1856, 2024, 2168, 2528, 2564, 2996, 3396, 3540, 3564, 3948, 4092,
         4320, 4500, 5160, 5232, 5328, 6048, 6564, 6976, 7048, 7204, 7348, 7396, 7504, 7840, 8260, 8428, 8776,
         9136, 9676]
s6602 = [152, 344, 596, 716, 740, 1136, 1448, 1856, 2504, 2792, 3204, 3864, 3936, 4464, 4704, 4800, 5748, 5976, 6000,
         6492, 6576, 6672, 6772, 6976, 7024, 7060, 7444, 7936, 8056, 8224, 8668, 8884, 9232, 9784]
s6601 = [56, 284, 584, 1424, 1616, 3252, 3648, 3840, 4716, 4836, 5040, 6348, 7276, 7372, 8140, 8356, 8476, 8692,
         8860, 9040, 9508]
s6600 = [128, 2336, 3492, 3696, 7516, 9328, 9460]
s6599 = [356, 3972, 4020, 6180, 7324, 7876, 7900]
s6598 = [560, 2936, 5016, 5040, 5388, 5964, 7492, 7744, 8176, 8368, 8836, 8980, 9100, 9820]
s6597 = [356, 944, 1208, 1280, 2480, 5616, 7048, 8176, 8236, 9076, 9616]
s6596 = [1460, 2156, 2984, 5028, 5052, 5748, 8320, 8680, 8824, 9520]
s6595 = [1772, 3876, 9292]
s6594 = [8488]
s6593 = [1604, 7408, 8380]
s6592 = [8608]

levels = [6654, 6652, 6651, 6650, 6649, 6648, 6646, 6645, 6644, 6643, 6642, 6641, 6640, 6639, 6638, 6637, 6636,
          6635, 6634, 6633, 6632, 6631, 6630, 6629, 6628, 6627, 6626, 6625, 6624, 6623, 6622, 6621, 6620, 6619,
          6618, 6617, 6616, 6615, 6614, 6613, 6612, 6611, 6610, 6609, 6608, 6607, 6606, 6605, 6604, 6603, 6602,
          6601, 6600, 6599, 6598, 6597, 6596, 6595, 6594, 6593, 6592]
samples = [s6654, s6652, s6651, s6650, s6649, s6648, s6646, s6645, s6644, s6643, s6642, s6641, s6640, s6639, s6638,
           s6637, s6636, s6635, s6634, s6633, s6632, s6631, s6630, s6629, s6628, s6627, s6626, s6625, s6624, s6623,
           s6622, s6621, s6620, s6619, s6618, s6617, s6616, s6615, s6614, s6613, s6612, s6611, s6610, s6609, s6608,
           s6607, s6606, s6605, s6604, s6603, s6602, s6601, s6600, s6599, s6598, s6597, s6596, s6595, s6594, s6593,
           s6592]

x = []
y = []
for level, row in zip(levels, samples):
    x += row
    y += [level] * len(row)

plt.figure(figsize=(10, 10))
plt.plot(x, y, 'k.', label='Samples\n$\\mu$ = 6621.44, $\\sigma$ = 8.39')
plt.title('Run 662, channel068, Pedestal')
plt.xlabel('Sample #')
plt.ylabel('ADC Counts')
plt.grid(True)
plt.legend(loc='upper right')
plt.tight_layout()
plt.subplots_adjust(top=0.965)
plt.savefig('out.png', dpi=100)
